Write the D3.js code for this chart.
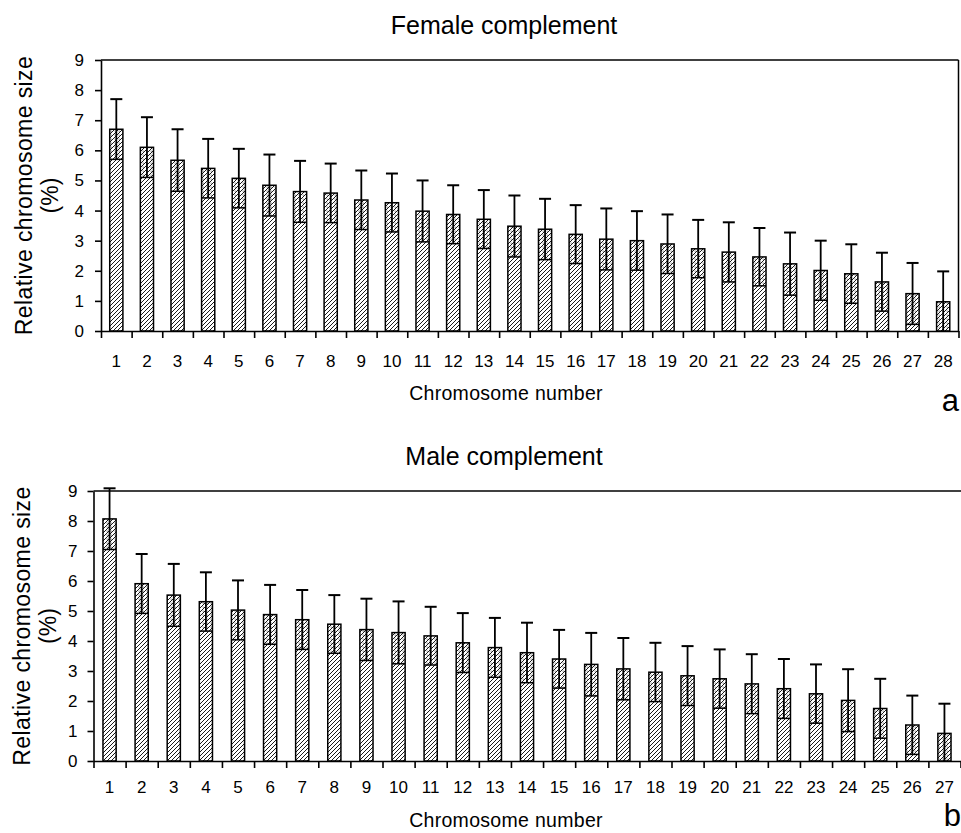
<!DOCTYPE html>
<html>
<head>
<meta charset="utf-8">
<script src="https://cdn.jsdelivr.net/npm/d3@7"></script>
<style>
  body { margin: 0; background: #fff; }
  svg { display: block; }
  text { font-family: "Liberation Sans", Arial, sans-serif; fill: #000; }
</style>
</head>
<body>
<div id="chart"></div>
<script>
// Datos
const femaleChromosomes = ["1","2","3","4","5","6","7","8","9","10","11","12","13","14","15","16","17","18","19","20","21","22","23","24","25","26","27","28"]
const femaleMean = [6.70, 6.10, 5.67, 5.40, 5.07, 4.84, 4.63, 4.58, 4.35, 4.26, 3.98, 3.87, 3.71, 3.48, 3.38, 3.21, 3.05, 3.00, 2.89, 2.73, 2.62, 2.46, 2.23, 2.01, 1.90, 1.63, 1.24, 0.97]
const femaleSd = [1.00, 1.00, 1.03, 0.98, 0.98, 1.02, 1.02, 0.98, 0.98, 0.97, 1.02, 0.97, 0.97, 1.02, 1.01, 0.97, 1.02, 0.98, 0.98, 0.96, 0.99, 0.96, 1.04, 0.99, 0.98, 0.97, 1.02, 1.01]

const maleChromosomes = ["1","2","3","4","5","6","7","8","9","10","11","12","13","14","15","16","17","18","19","20","21","22","23","24","25","26","27"]
const maleMean = [8.07, 5.91, 5.53, 5.31, 5.03, 4.88, 4.71, 4.56, 4.38, 4.28, 4.17, 3.94, 3.78, 3.61, 3.40, 3.22, 3.07, 2.96, 2.84, 2.74, 2.57, 2.41, 2.24, 2.02, 1.75, 1.20, 0.92]
const maleSd = [1.02, 0.99, 1.04, 0.98, 0.99, 0.99, 0.99, 0.97, 1.03, 1.04, 0.97, 0.99, 0.99, 1.00, 0.97, 1.05, 1.03, 0.98, 0.99, 0.98, 0.99, 0.99, 0.98, 1.04, 0.99, 0.98, 0.99]

const yTicks = [0, 1, 2, 3, 4, 5, 6, 7, 8, 9]

const svg = d3.select("#chart")
  .append("svg")
  .attr("width", 961)
  .attr("height", 833)

// Tramas
const defs = svg.append("defs")

const hatch = defs.append("pattern")
  .attr("id", "hatch")
  .attr("patternUnits", "userSpaceOnUse")
  .attr("width", 4)
  .attr("height", 4)
hatch.append("rect").attr("width", 4).attr("height", 4).attr("fill", "#fff")
hatch.append("path")
  .attr("d", "M-1,1 l2,-2 M0,4 l4,-4 M3,5 l2,-2")
  .attr("stroke", "#000")
  .attr("stroke-width", 0.9)

const dense = defs.append("pattern")
  .attr("id", "dense")
  .attr("patternUnits", "userSpaceOnUse")
  .attr("width", 4)
  .attr("height", 4)
dense.append("rect").attr("width", 4).attr("height", 4).attr("fill", "#fff")
dense.append("path")
  .attr("d", "M-1,1 l2,-2 M0,4 l4,-4 M3,5 l2,-2")
  .attr("stroke", "#000")
  .attr("stroke-width", 0.9)
dense.append("rect").attr("x", 2.6).attr("y", 2.6).attr("width", 1).attr("height", 1).attr("fill", "#555")

const drawPanel = (cfg) => {
  const { cats, mean, sd, left, right, top, bottom, pad } = cfg
  const data = cats.map((c, i) => ({ cat: c, mean: mean[i], sd: sd[i] }))

  const g = svg.append("g")

  // Escaladores
  const x = d3.scaleBand().domain(cats).range([left, right]).paddingInner(pad).paddingOuter(pad / 2)
  const xEdge = d3.scaleLinear().domain([0, cats.length]).range([left, right])
  const y = d3.scaleLinear().domain([0, 9]).range([bottom, top])

  // Marco
  g.append("line")
    .attr("x1", left).attr("x2", cfg.frameRight)
    .attr("y1", top).attr("y2", top)
    .attr("stroke", "#000").attr("stroke-width", 1.5)
  if (cfg.rightBorder) {
    g.append("line")
      .attr("x1", right).attr("x2", right)
      .attr("y1", top).attr("y2", bottom)
      .attr("stroke", "#000").attr("stroke-width", 1.5)
  }

  // Barras
  g.selectAll("rect.bar")
    .data(data)
    .join("rect")
    .classed("bar", true)
    .attr("x", (d) => x(d.cat))
    .attr("y", (d) => y(d.mean))
    .attr("width", x.bandwidth())
    .attr("height", (d) => y(0) - y(d.mean))
    .attr("fill", "url(#hatch)")

  g.selectAll("rect.upper")
    .data(data)
    .join("rect")
    .classed("upper", true)
    .attr("x", (d) => x(d.cat))
    .attr("y", (d) => y(d.mean))
    .attr("width", x.bandwidth())
    .attr("height", (d) => y(Math.max(0, d.mean - d.sd)) - y(d.mean))
    .attr("fill", "url(#dense)")

  g.selectAll("rect.outline")
    .data(data)
    .join("rect")
    .classed("outline", true)
    .attr("x", (d) => x(d.cat))
    .attr("y", (d) => y(d.mean))
    .attr("width", x.bandwidth())
    .attr("height", (d) => y(0) - y(d.mean))
    .attr("fill", "none")
    .attr("stroke", "#000")
    .attr("stroke-width", 1.5)

  // Barras de error
  const cx = (d) => x(d.cat) + x.bandwidth() / 2
  g.selectAll("line.err")
    .data(data)
    .join("line")
    .classed("err", true)
    .attr("x1", cx).attr("x2", cx)
    .attr("y1", (d) => y(Math.max(0, d.mean - d.sd)))
    .attr("y2", (d) => y(d.mean + d.sd))
    .attr("stroke", "#000").attr("stroke-width", 1.8)

  g.selectAll("line.capTop")
    .data(data)
    .join("line")
    .classed("capTop", true)
    .attr("x1", (d) => cx(d) - 6).attr("x2", (d) => cx(d) + 6)
    .attr("y1", (d) => y(d.mean + d.sd)).attr("y2", (d) => y(d.mean + d.sd))
    .attr("stroke", "#000").attr("stroke-width", 2)

  g.selectAll("line.capLow")
    .data(data.filter((d) => d.mean - d.sd > 0))
    .join("line")
    .classed("capLow", true)
    .attr("x1", (d) => x(d.cat)).attr("x2", (d) => x(d.cat) + x.bandwidth())
    .attr("y1", (d) => y(d.mean - d.sd)).attr("y2", (d) => y(d.mean - d.sd))
    .attr("stroke", "#000").attr("stroke-width", 1.5)

  // Ejes
  const yAxis = g.append("g")
    .attr("transform", `translate(${left},0)`)
    .call(d3.axisLeft(y).tickValues(yTicks).tickSize(6).tickSizeOuter(0).tickPadding(cfg.yPad))
  yAxis.selectAll("text").style("font-size", "17px")

  g.append("g")
    .attr("transform", `translate(0,${bottom})`)
    .call(d3.axisBottom(xEdge).tickValues(d3.range(0, cats.length + 1)).tickFormat("").tickSize(7).tickSizeOuter(0))

  g.selectAll(".domain, .tick line").attr("stroke", "#000").attr("stroke-width", 1.6)

  g.selectAll("text.xlab")
    .data(cats)
    .join("text")
    .classed("xlab", true)
    .attr("x", (d) => x(d) + x.bandwidth() / 2)
    .attr("y", cfg.xLabelY)
    .attr("text-anchor", "middle")
    .style("font-size", "17px")
    .text((d) => d)

  // Textos
  g.append("text")
    .attr("x", 504).attr("y", cfg.titleY)
    .attr("text-anchor", "middle")
    .style("font-size", "25px")
    .text(cfg.title)

  g.append("text")
    .attr("x", 506).attr("y", cfg.xTitleY)
    .attr("text-anchor", "middle")
    .style("font-size", "19.5px")
    .style("letter-spacing", "0.3px")
    .text("Chromosome number")

  const yMid = (top + bottom) / 2
  g.append("text")
    .attr("transform", `translate(${cfg.yTitleX},${yMid}) rotate(-90)`)
    .attr("text-anchor", "middle")
    .style("font-size", "23px")
    .style("letter-spacing", "0.4px")
    .text("Relative chromosome size")
  g.append("text")
    .attr("transform", `translate(${cfg.yTitleX + 26},${yMid}) rotate(-90)`)
    .attr("text-anchor", "middle")
    .style("font-size", "23px")
    .text("(%)")

  g.append("text")
    .attr("x", cfg.letterX).attr("y", cfg.letterY)
    .attr("text-anchor", "end")
    .style("font-size", "31px")
    .text(cfg.letter)
}

drawPanel({
  cats: femaleChromosomes, mean: femaleMean, sd: femaleSd,
  left: 101, right: 958.5, top: 60, bottom: 331, pad: 0.57,
  frameRight: 958.5, rightBorder: true, yPad: 11,
  xLabelY: 367, title: "Female complement", titleY: 34,
  xTitleY: 400, yTitleX: 32, letter: "a", letterX: 959, letterY: 411
})

drawPanel({
  cats: maleChromosomes, mean: maleMean, sd: maleSd,
  left: 93.5, right: 960.5, top: 491, bottom: 761, pad: 0.59,
  frameRight: 961, rightBorder: false, yPad: 10,
  xLabelY: 793, title: "Male complement", titleY: 465,
  xTitleY: 827, yTitleX: 30, letter: "b", letterX: 961, letterY: 826
})
</script>
</body>
</html>
